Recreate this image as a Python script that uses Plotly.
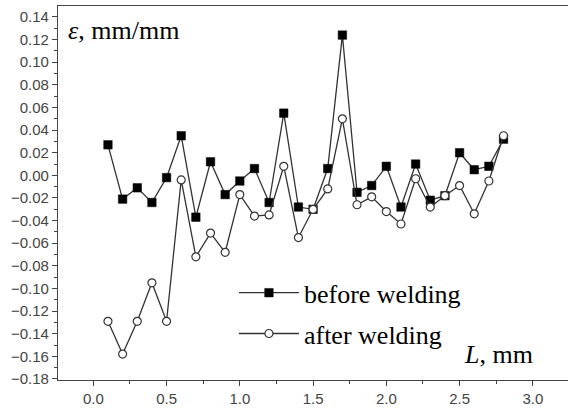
import plotly.graph_objects as go

L_mm = [0.1, 0.2, 0.3, 0.4, 0.5, 0.6, 0.7, 0.8, 0.9, 1.0, 1.1, 1.2, 1.3, 1.4,
        1.5, 1.6, 1.7, 1.8, 1.9, 2.0, 2.1, 2.2, 2.3, 2.4, 2.5, 2.6, 2.7, 2.8]
before_welding = [0.027, -0.021, -0.011, -0.024, -0.002, 0.035, -0.037, 0.012, -0.017, -0.005,
                  0.006, -0.024, 0.055, -0.028, -0.030, 0.006, 0.124, -0.015, -0.009, 0.008,
                  -0.028, 0.010, -0.022, -0.018, 0.020, 0.005, 0.008, 0.032]
after_welding = [-0.129, -0.158, -0.129, -0.095, -0.129, -0.004, -0.072, -0.051, -0.068, -0.017,
                 -0.036, -0.035, 0.008, -0.055, -0.030, -0.012, 0.050, -0.026, -0.019, -0.032,
                 -0.043, -0.003, -0.028, -0.018, -0.009, -0.034, -0.005, 0.035]

fig = go.Figure()
fig.add_trace(go.Scatter(
    x=L_mm, y=before_welding, mode="lines+markers", name="before welding",
    legendgroup="a",
    line=dict(color="#333333", width=1.3),
    marker=dict(symbol="square", size=8.5, color="black", line=dict(color="black", width=0.5)),
))
fig.add_trace(go.Scatter(
    x=L_mm, y=after_welding, mode="lines+markers", name="after welding",
    legendgroup="b",
    line=dict(color="#333333", width=1.3),
    marker=dict(symbol="circle", size=8, color="white", line=dict(color="#333333", width=1.2)),
))

tickfont = dict(family="Liberation Sans, Arial", size=15, color="#444444")
fig.update_xaxes(
    range=[-0.241, 3.24], dtick=0.5, tick0=0, tickformat=".1f",
    showline=True, linecolor="#444444", linewidth=1.2, mirror=True,
    ticks="outside", ticklen=5, tickcolor="#444444", tickfont=tickfont,
    minor=dict(dtick=0.25, ticks="outside", ticklen=3, tickcolor="#444444"),
    showgrid=False, zeroline=False,
)
fig.update_yaxes(
    range=[-0.1809, 0.1497], dtick=0.02, tick0=0, tickformat=".2f",
    showline=True, linecolor="#444444", linewidth=1.2,
    ticks="outside", ticklen=5, tickcolor="#444444", tickfont=tickfont,
    minor=dict(dtick=0.01, ticks="outside", ticklen=3, tickcolor="#444444"),
    showgrid=False, zeroline=False,
)

serif = dict(family="Liberation Serif, Times New Roman", size=26, color="black")
fig.add_annotation(x=0.016, y=0.935, xref="paper", yref="paper", text="<i>ε</i>, mm/mm",
                   showarrow=False, xanchor="left", yanchor="middle", font=serif)
fig.add_annotation(x=0.935, y=0.068, xref="paper", yref="paper", text="<i>L</i>, mm",
                   showarrow=False, xanchor="right", yanchor="middle", font=serif)

fig.update_layout(
    width=568, height=411,
    margin=dict(l=58, r=0, t=6, b=31),
    paper_bgcolor="white", plot_bgcolor="white",
    showlegend=True,
    legend=dict(x=0.345, y=0.296, xanchor="left", yanchor="top",
                font=serif, bgcolor="rgba(0,0,0,0)", itemwidth=60,
                traceorder="grouped", tracegroupgap=4),
)

fig.write_html("out.html")
